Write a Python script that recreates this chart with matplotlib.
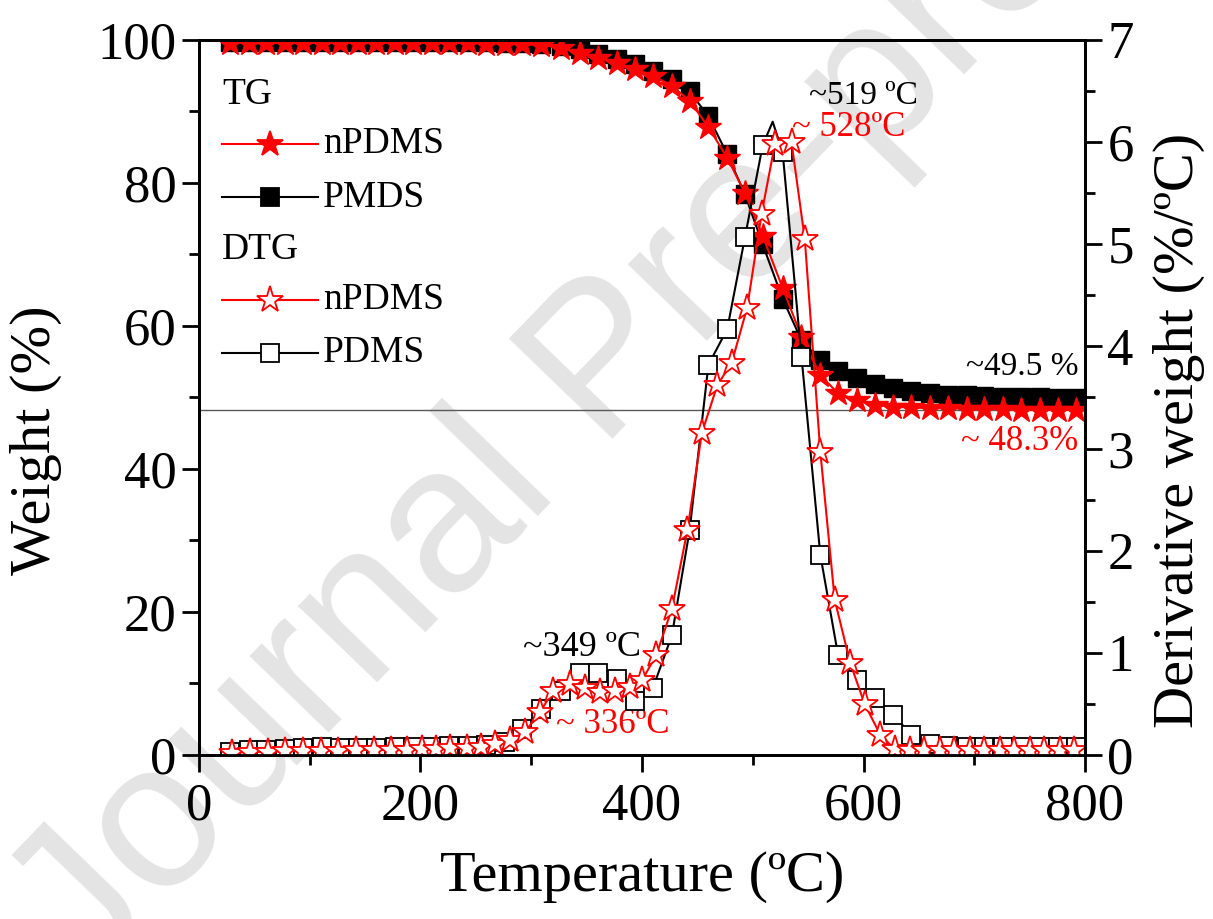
import numpy as np
import matplotlib
matplotlib.use('Agg')
import matplotlib.pyplot as plt
from matplotlib.ticker import MultipleLocator

plt.rcParams['font.family'] = ['Liberation Serif', 'DejaVu Serif']

# TG data (weight %), markers every ~16.5 C
t_tg = [28, 45, 61, 78, 94, 111, 127, 144, 160, 177, 193, 210, 226, 243, 259, 276,
        292, 309, 327, 344, 360, 377, 394, 410, 427, 443, 460, 477, 493, 509, 527,
        544, 561, 577, 594, 610, 627, 643, 660, 676, 693, 709, 726, 742, 759, 776, 792]
w_npdms = [99.6, 99.6, 99.6, 99.6, 99.6, 99.6, 99.6, 99.6, 99.6, 99.6, 99.6, 99.6,
           99.6, 99.6, 99.5, 99.5, 99.4, 99.3, 98.9, 98.2, 97.5, 96.8, 95.9, 95.0,
           93.6, 91.5, 87.8, 83.5, 78.6, 72.6, 65.3, 58.5, 53.1, 50.6, 49.6, 49.0,
           48.7, 48.6, 48.5, 48.5, 48.4, 48.4, 48.4, 48.3, 48.3, 48.3, 48.3]
w_pmds = [99.7, 99.7, 99.7, 99.7, 99.7, 99.7, 99.7, 99.7, 99.7, 99.7, 99.7, 99.7,
          99.7, 99.7, 99.7, 99.6, 99.6, 99.5, 99.2, 98.7, 98.1, 97.3, 96.6, 95.7,
          94.5, 92.8, 89.3, 84.0, 78.4, 71.4, 63.8, 58.0, 55.2, 53.7, 52.7, 51.9,
          51.3, 50.9, 50.6, 50.4, 50.3, 50.2, 50.1, 50.0, 50.0, 49.9, 49.9]

# DTG PDMS (open squares), peak point 518 only on the line
t_dtg_pdms = [28, 45, 61, 78, 94, 111, 127, 144, 160, 177, 193, 210, 226, 243, 259, 276,
              292, 309, 327, 344, 360, 377, 394, 410, 427, 443, 460, 477, 493, 509, 518,
              527, 544, 561, 577, 594, 610, 627, 643, 660, 676, 693, 709, 726, 742, 759,
              776, 792]
d_pdms = [0.03, 0.05, 0.05, 0.06, 0.07, 0.08, 0.07, 0.07, 0.07, 0.08, 0.08, 0.08,
          0.09, 0.09, 0.10, 0.13, 0.25, 0.45, 0.63, 0.80, 0.80, 0.74, 0.53, 0.66,
          1.17, 2.20, 3.82, 4.17, 5.07, 5.97, 6.20, 5.90, 3.90, 1.96, 0.98, 0.73,
          0.56, 0.39, 0.20, 0.11, 0.09, 0.08, 0.08, 0.08, 0.08, 0.08, 0.08, 0.08]

# DTG nPDMS (open stars)
t_dtg_npdms = [30, 46, 62, 78, 94, 110, 126, 142, 158, 173, 188, 201, 214, 227, 242,
               255, 267, 281, 294, 308, 320, 335, 349, 362, 376, 389, 400, 413, 427,
               441, 454, 468, 481, 495, 508, 520, 535, 547, 561, 574, 588, 601, 615,
               628, 642, 655, 669, 682, 696, 709, 723, 736, 750, 763, 777, 790]
d_npdms = [0.02, 0.03, 0.03, 0.04, 0.04, 0.04, 0.04, 0.05, 0.05, 0.05, 0.05, 0.06,
           0.06, 0.07, 0.07, 0.08, 0.11, 0.15, 0.22, 0.42, 0.63, 0.69, 0.66, 0.62,
           0.63, 0.67, 0.73, 0.98, 1.43, 2.20, 3.15, 3.62, 3.84, 4.38, 5.30, 5.98,
           6.00, 5.05, 2.97, 1.52, 0.90, 0.50, 0.20, 0.06, 0.05, 0.05, 0.05, 0.05,
           0.05, 0.05, 0.05, 0.05, 0.05, 0.05, 0.05, 0.05]

residue_line = 48.3

fig = plt.figure(figsize=(12.13, 9.19), dpi=100)

# watermark, behind everything
fig.text(0.50, 0.6, 'Journal Pre-proof', fontsize=150, color='#e4e4e4',
         family='Liberation Sans', rotation=46, ha='center', va='center',
         rotation_mode='anchor', zorder=-1)

ax = fig.add_axes([0.164, 0.1785, 0.7305, 0.778])
ax.patch.set_alpha(0)
ax2 = ax.twinx()

red = '#ff0000'
ax.axhline(residue_line, color='0.35', lw=1.0, zorder=1)
ax.plot(t_tg, w_pmds, color='black', lw=1.5, marker='s', ms=13, mfc='black', mec='black')
ax.plot(t_tg, w_npdms, color=red, lw=1.5, marker='*', ms=19, mfc=red, mec=red)

peak_i = t_dtg_pdms.index(518)
mk = [i for i in range(len(t_dtg_pdms)) if i != peak_i]
ax2.plot(t_dtg_pdms, d_pdms, color='black', lw=1.5, marker='s', ms=13, mfc='white',
         mec='black', mew=1.3, markevery=mk)
ax2.plot(t_dtg_npdms, d_npdms, color=red, lw=1.5, marker='*', ms=20, mfc='white',
         mec=red, mew=1.3)

ax.set_xlim(0, 800)
ax.set_ylim(0, 100)
ax2.set_ylim(0, 7)

ax.xaxis.set_major_locator(MultipleLocator(200))
ax.xaxis.set_minor_locator(MultipleLocator(100))
ax.yaxis.set_major_locator(MultipleLocator(20))
ax.yaxis.set_minor_locator(MultipleLocator(10))
ax2.yaxis.set_major_locator(MultipleLocator(1))
ax2.yaxis.set_minor_locator(MultipleLocator(0.5))

for a in (ax, ax2):
    a.tick_params(which='major', length=12, width=2, direction='out', labelsize=38)
    a.tick_params(which='minor', length=7, width=2, direction='out')
    for s in a.spines.values():
        s.set_linewidth(2)
ax.tick_params(axis='x', pad=8)
ax.tick_params(axis='y', pad=4)
ax2.tick_params(axis='y', pad=4)

ax.set_xlabel('Temperature (ºC)', fontsize=42)
ax.set_ylabel('Weight (%)', fontsize=42)
ax.xaxis.set_label_coords(0.5, -0.135)
ax.yaxis.set_label_coords(-0.155, 0.44)
fig.text(0.972, 0.532, 'Derivative weight (%/ºC)', fontsize=42, rotation=90,
         ha='center', va='center')

# annotations
ax.text(346, 15, '~349 ºC', fontsize=26, color='black', ha='center', va='center')
ax.text(374, 4.2, '~ 336ºC', fontsize=25, color=red, ha='center', va='center')
ax.text(600, 92.2, '~519 ºC', fontsize=24, color='black', ha='center', va='center')
ax.text(587, 87.7, '~ 528ºC', fontsize=25, color=red, ha='center', va='center')
ax.text(743, 54.3, '~49.5 %', fontsize=24, color='black', ha='center', va='center')
ax.text(741, 43.8, '~ 48.3%', fontsize=25, color=red, ha='center', va='center')

# legend drawn by hand
tr = ax.transAxes
x0, x1, xm, xt = 0.026, 0.134, 0.080, 0.14
ax.text(x0, 0.923, 'TG', transform=tr, fontsize=27, va='center', ha='left')
ax.text(x0, 0.706, 'DTG', transform=tr, fontsize=27, va='center', ha='left')
rows = [(0.855, red, '*', red, 19, 'nPDMS'),
        (0.780, 'black', 's', 'black', 13, 'PMDS'),
        (0.636, red, '*', 'white', 20, 'nPDMS'),
        (0.562, 'black', 's', 'white', 13, 'PDMS')]
for y, c, m, fc, ms, lab in rows:
    ax.plot([x0, x1], [y, y], color=c, lw=1.5, transform=tr, clip_on=False)
    ax.plot([xm], [y], marker=m, ms=ms, mfc=fc, mec=c, mew=1.3, transform=tr,
            clip_on=False, ls='none')
    ax.text(xt, y, lab, transform=tr, fontsize=27, va='center', ha='left')

fig.savefig('out.png', dpi=100)
